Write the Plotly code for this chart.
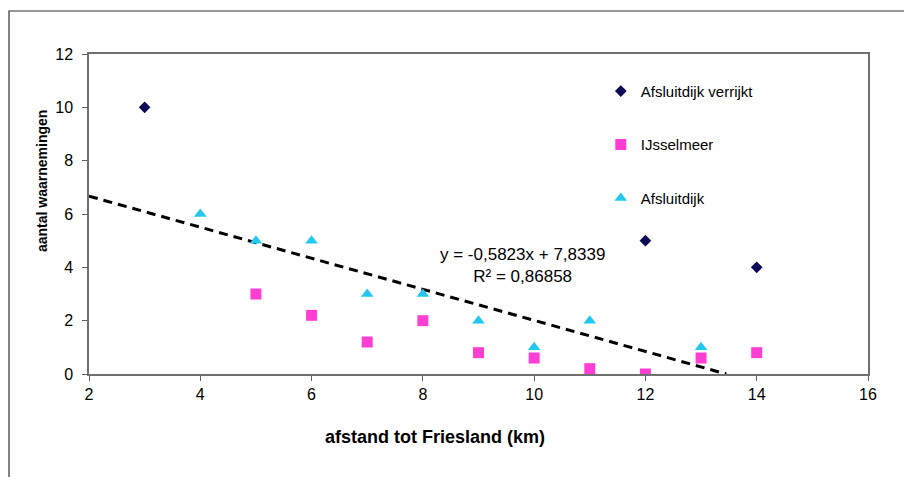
import numpy as np
import plotly.graph_objects as go

# Data
verrijkt_x = [3, 12, 14]
verrijkt_y = [10, 5, 4]

ijssel_x = [5, 6, 7, 8, 9, 10, 11, 12, 13, 14]
ijssel_y = [3, 2.2, 1.2, 2, 0.8, 0.6, 0.2, 0, 0.6, 0.8]

afsl_x = [4, 5, 6, 7, 8, 9, 10, 11, 13]
afsl_y = [6, 5, 5, 3, 3, 2, 1, 2, 1]

x_ticks = [2, 4, 6, 8, 10, 12, 14, 16]
y_ticks = [0, 2, 4, 6, 8, 10, 12]

# linear trendline on Afsluitdijk, backward forecast to x=2, clipped at y=0
slope, intercept = np.polyfit(afsl_x, afsl_y, 1)
trend_x = [2, -intercept / slope]
trend_y = [slope * x + intercept for x in trend_x]

fig = go.Figure()
fig.add_trace(go.Scatter(x=trend_x, y=trend_y, mode="lines",
                         line=dict(color="black", width=3, dash="9px,6px"),
                         showlegend=False, hoverinfo="skip"))
fig.add_trace(go.Scatter(x=verrijkt_x, y=verrijkt_y, mode="markers",
                         name="Afsluitdijk verrijkt", legendgroup="a",
                         marker=dict(symbol="diamond", size=9, color="#0b0b55")))
fig.add_trace(go.Scatter(x=ijssel_x, y=ijssel_y, mode="markers",
                         name="IJsselmeer", legendgroup="b",
                         marker=dict(symbol="square", size=11, color="#ff3fd2")))
fig.add_trace(go.Scatter(x=afsl_x, y=afsl_y, mode="markers",
                         name="Afsluitdijk", legendgroup="c",
                         marker=dict(symbol="triangle-up", size=11, color="#22c8f0")))

FONT = "Liberation Sans, Arial"
# page body has an 8px margin: figure is drawn 8px in from the window edge
# plot area target (window px): x 89..868, y 54..374
fig.update_layout(
    width=904, height=469,
    margin=dict(l=81, r=44, t=46, b=103),
    paper_bgcolor="white", plot_bgcolor="white",
    xaxis=dict(range=[2, 16], tickvals=x_ticks, ticks="outside", ticklen=5,
               tickcolor="#606060", showline=True, linecolor="#707070", linewidth=1.5,
               mirror=True, showgrid=False, zeroline=False,
               tickfont=dict(family=FONT, size=16, color="black")),
    yaxis=dict(range=[0, 12], tickvals=y_ticks, ticks="outside", ticklen=5,
               tickcolor="#606060", showline=True, linecolor="#707070", linewidth=1.5,
               mirror=True, showgrid=False, zeroline=False, ticklabelstandoff=6,
               tickfont=dict(family=FONT, size=16, color="black")),
    legend=dict(x=0.657, y=0.935, xanchor="left", yanchor="top",
                font=dict(family=FONT, size=15, color="black"),
                tracegroupgap=31, itemwidth=30, bgcolor="rgba(0,0,0,0)"),
    showlegend=True,
)

# convert absolute window pixel positions to paper coords of the plot area
def px(xp):
    return (xp - 89) / (868 - 89)

def py(yp):
    return (374 - yp) / (374 - 54)

fig.add_annotation(x=px(522), y=py(265), xref="paper", yref="paper", showarrow=False,
                   xanchor="center", yanchor="middle",
                   text="y = -0,5823x + 7,8339<br>R² = 0,86858", align="center",
                   font=dict(family=FONT, size=17, color="black"))

fig.add_annotation(x=px(435), y=py(437), xref="paper", yref="paper", showarrow=False,
                   xanchor="center", yanchor="middle",
                   text="<b>afstand tot Friesland (km)</b>",
                   font=dict(family=FONT, size=18, color="black"))
fig.add_annotation(x=px(42), y=py(181), xref="paper", yref="paper", showarrow=False,
                   xanchor="center", yanchor="middle",
                   text="<b>aantal waarnemingen</b>", textangle=-90,
                   font=dict(family=FONT, size=14, color="black"))

# outer frame (left/top edges visible; right and bottom run off the page)
fig.add_shape(type="rect", xref="paper", yref="paper",
              x0=px(9), y0=py(500), x1=px(940), y1=py(11),
              line=dict(color="#303030", width=1.2), fillcolor="rgba(0,0,0,0)")

fig.write_html("out.html")
